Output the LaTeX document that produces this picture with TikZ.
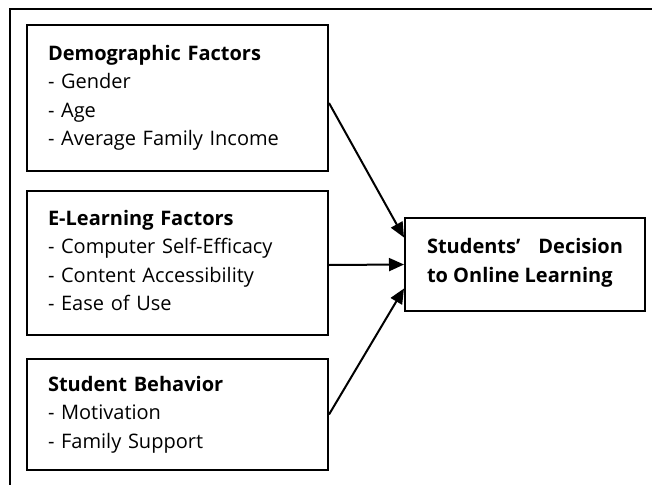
\documentclass[tikz,border=0pt]{standalone}
\usepackage{fontspec}
\setmainfont{Open Sans}
\usetikzlibrary{arrows.meta}
\newcommand{\boxfont}{\fontsize{20}{28.5}\selectfont}
\tikzset{
  factor/.style={draw, line width=2pt, anchor=north west, align=left,
    text width=259pt, inner xsep=21pt, inner ysep=0pt, font=\boxfont},
  outcome/.style={draw, line width=2pt, anchor=north west, align=justify,
    text width=196pt, inner xsep=22pt, inner ysep=0pt, font=\boxfont\bfseries},
  link/.style={line width=2pt, -{Triangle[length=15pt,width=13pt]}}
}
\begin{document}
\begin{tikzpicture}[x=1pt,y=-1pt]
		\clip (0,0) rectangle (652,484);
		% frame
		\draw[line width=2pt] (10,9.5) rectangle (680,520);
		% factors
		\node[factor, minimum height=146pt] (demo) at (26,24)
		{\textbf{Demographic Factors}\\- Gender\\- Age\\- Average Family Income\\[-23pt]\mbox{}};
		\node[factor, minimum height=144pt] (elearn) at (26,190)
		{\textbf{E-Learning Factors}\\- Computer Self-Efficacy\\- Content Accessibility\\- Ease of Use\\[-23pt]\mbox{}};
		\node[factor, minimum height=111pt] (behav) at (26,358)
		{\textbf{Student Behavior}\\- Motivation\\- Family Support};
		% decision
		\node[outcome, minimum width=240pt, minimum height=93pt] (dec) at (404,217)
		{Students’\hfill Decision\\to Online Learning\\[-20pt]\mbox{}};
		% arrows
		\draw[link] ([yshift=-5pt]demo.east) -- ([yshift=27pt]dec.west);
		\draw[link] ([yshift=-2pt]elearn.east) -- (dec.west);
		\draw[link] (behav.east) -- ([yshift=-24pt]dec.west);
	\end{tikzpicture}
\end{document}
